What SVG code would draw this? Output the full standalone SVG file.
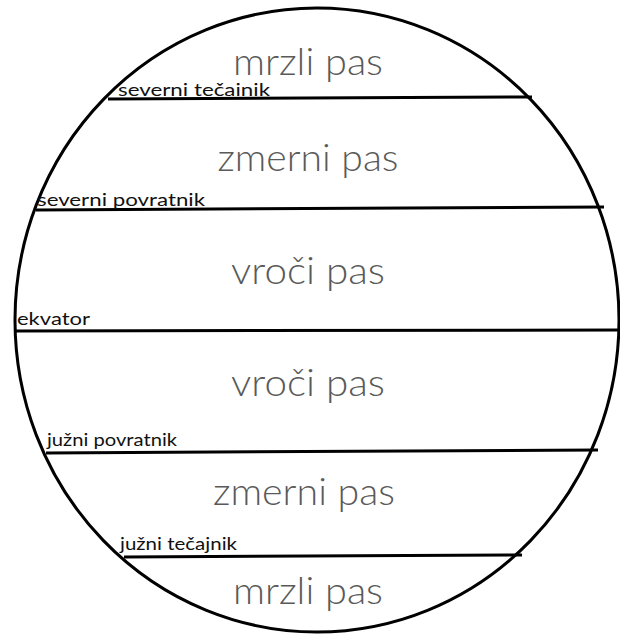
<svg xmlns="http://www.w3.org/2000/svg" width="620" height="635" viewBox="0 0 620 635">
<style>
.zone{font-family:"Lato","Liberation Sans",sans-serif;font-weight:300;font-size:37px;fill:#5a5a5a;text-anchor:middle}
.lab{font-family:"Lato","Liberation Sans",sans-serif;font-size:18px;fill:#111}
.ln{stroke:#000;stroke-width:3;fill:none}
</style>
<rect width="620" height="635" fill="#fff"/>
<g id="globe">
<ellipse cx="317" cy="320" rx="302" ry="312" class="ln"/>
</g>
<g id="lines">
<line class="ln" x1="108" y1="99" x2="532" y2="97"/>
<line class="ln" x1="36" y1="210" x2="604" y2="207"/>
<line class="ln" x1="15" y1="331" x2="620" y2="330"/>
<line class="ln" x1="46" y1="453" x2="598" y2="450"/>
<line class="ln" x1="124" y1="557" x2="522" y2="555"/>
</g>
<g id="zones">
<text class="zone" x="308" y="75" textLength="150" lengthAdjust="spacingAndGlyphs">mrzli pas</text>
<text class="zone" x="308" y="171" textLength="181" lengthAdjust="spacingAndGlyphs">zmerni pas</text>
<text class="zone" x="308" y="284" textLength="154" lengthAdjust="spacingAndGlyphs">vroči pas</text>
<text class="zone" x="308" y="396" textLength="154" lengthAdjust="spacingAndGlyphs">vroči pas</text>
<text class="zone" x="304" y="505" textLength="182" lengthAdjust="spacingAndGlyphs">zmerni pas</text>
<text class="zone" x="308" y="604" textLength="150" lengthAdjust="spacingAndGlyphs">mrzli pas</text>
</g>
<g id="labels">
<text class="lab" x="118" y="96" textLength="152" lengthAdjust="spacingAndGlyphs">severni tečainik</text>
<text class="lab" x="37" y="206" textLength="168" lengthAdjust="spacingAndGlyphs">severni povratnik</text>
<text class="lab" x="17" y="325" textLength="73" lengthAdjust="spacingAndGlyphs">ekvator</text>
<text class="lab" x="47" y="446" textLength="130" lengthAdjust="spacingAndGlyphs">južni povratnik</text>
<text class="lab" x="120" y="550" textLength="117" lengthAdjust="spacingAndGlyphs">južni tečajnik</text>
</g>
</svg>
